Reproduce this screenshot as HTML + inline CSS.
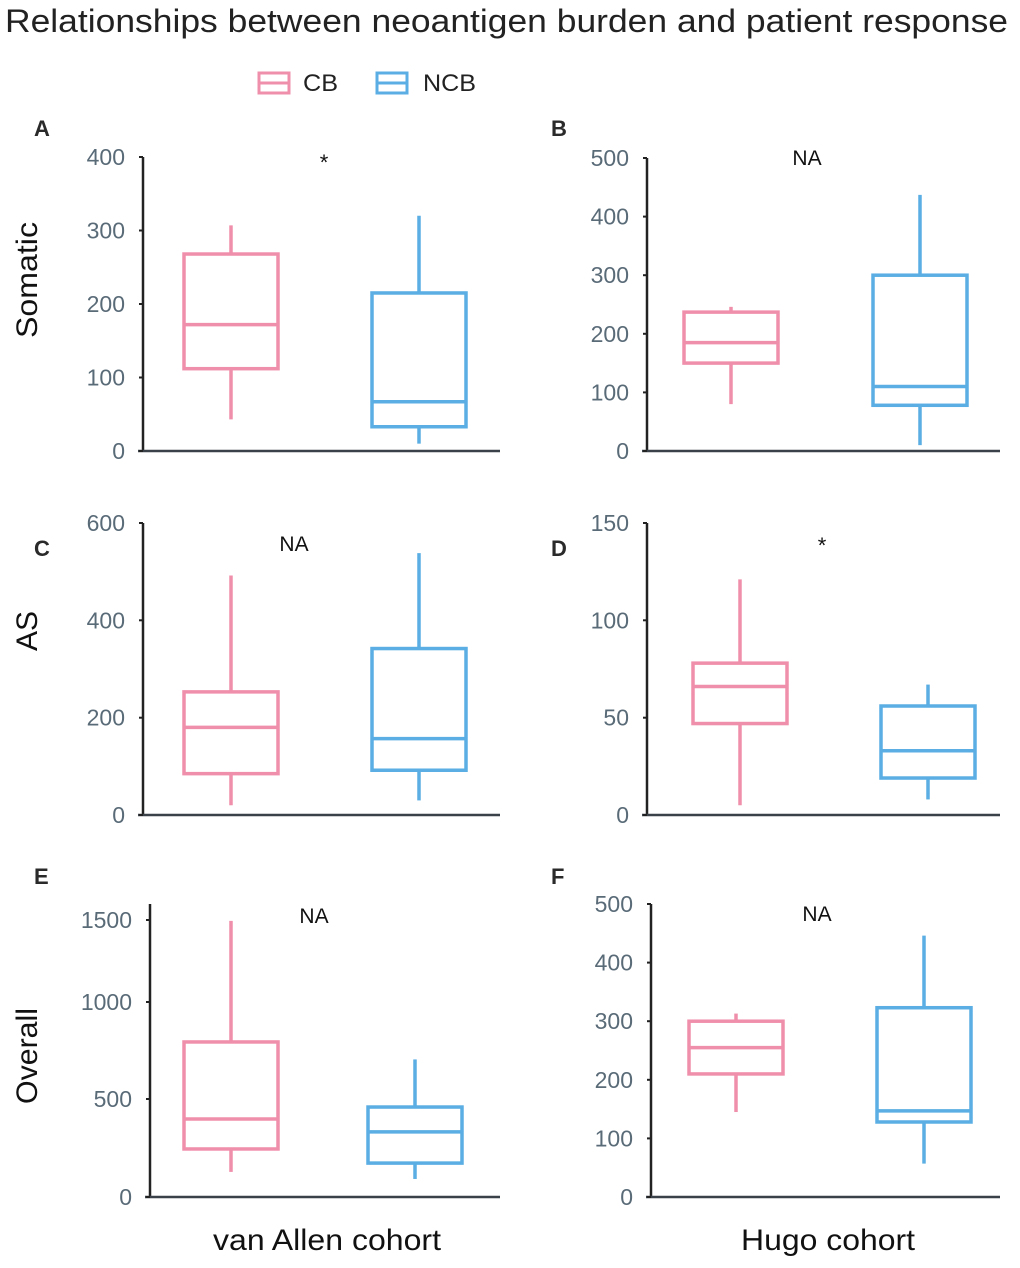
<!DOCTYPE html>
<html><head><meta charset="utf-8"><style>
body{margin:0;background:#fff;}
svg text{font-family:"Liberation Sans",sans-serif;}
</style></head><body>
<svg id="c" width="1020" height="1263" xmlns="http://www.w3.org/2000/svg">
<text x="5" y="32" font-size="32" textLength="1003" lengthAdjust="spacingAndGlyphs" fill="#222">Relationships between neoantigen burden and patient response</text>
<g>
<rect x="259" y="73" width="30" height="20" fill="none" stroke="#f08fab" stroke-width="3"/>
<line x1="259" y1="83" x2="289" y2="83" stroke="#f08fab" stroke-width="3"/>
<text x="303" y="91" font-size="24" textLength="35" lengthAdjust="spacingAndGlyphs" fill="#222">CB</text>
<rect x="377" y="73" width="30" height="20" fill="none" stroke="#5aaee3" stroke-width="3"/>
<line x1="377" y1="83" x2="407" y2="83" stroke="#5aaee3" stroke-width="3"/>
<text x="423" y="91" font-size="24" textLength="53" lengthAdjust="spacingAndGlyphs" fill="#222">NCB</text>
</g>
<text transform="translate(37,280) rotate(-90)" font-size="30" textLength="116" lengthAdjust="spacingAndGlyphs" text-anchor="middle" fill="#111">Somatic</text>
<text transform="translate(37,631) rotate(-90)" font-size="30" text-anchor="middle" fill="#111">AS</text>
<text transform="translate(37,1056) rotate(-90)" font-size="30" textLength="96" lengthAdjust="spacingAndGlyphs" text-anchor="middle" fill="#111">Overall</text>
<text x="213" y="1250" font-size="30" textLength="228" lengthAdjust="spacingAndGlyphs" fill="#111">van Allen cohort</text>
<text x="741" y="1250" font-size="30" textLength="174" lengthAdjust="spacingAndGlyphs" fill="#111">Hugo cohort</text>
</svg>
<script>
const panelLetters=["A","B","C","D","E","F"];
const panelNotes=["*","NA","NA","*","NA","NA"];
const yTicks=[[0,100,200,300,400],[0,100,200,300,400,500],[0,200,400,600],[0,50,100,150],[0,500,1000,1500],[0,100,200,300,400,500]];
// [whisker low, q1, median, q3, whisker high]
const cbStats=[[43,112,172,268,307],[80,150,185,237,246],[20,85,180,253,492],[5,47,66,78,121],[128,245,398,794,1495],[145,210,255,300,313]];
const ncbStats=[[10,33,67,215,320],[10,78,110,300,437],[30,92,157,342,538],[8,19,33,56,67],[92,173,332,459,704],[57,128,147,323,446]];

// tickPx: pixel y of each tick (axis calibration); values mapped piecewise-linearly
const layout=[
 {ax:143,axTop:157,bot:451,xr:500,c1:231,c2:419,lx:34,ly:136,nx:324,ny:170,tickPx:[451,377.5,304,230.5,157]},
 {ax:647,axTop:158,bot:451,xr:1000,c1:731,c2:920,lx:551,ly:136,nx:807,ny:165,tickPx:[451,392.4,333.8,275.2,216.6,158]},
 {ax:143,axTop:523,bot:815,xr:500,c1:231,c2:419,lx:34,ly:556,nx:294,ny:551,tickPx:[815,717.7,620.3,523]},
 {ax:647,axTop:523,bot:815,xr:1000,c1:740,c2:928,lx:551,ly:556,nx:822,ny:553,tickPx:[815,717.7,620.3,523]},
 {ax:150,axTop:904,bot:1197,xr:500,c1:231,c2:415,lx:34,ly:884,nx:314,ny:923,tickPx:[1197,1099,1002,920]},
 {ax:651,axTop:904,bot:1197,xr:1000,c1:736,c2:924,lx:551,ly:884,nx:817,ny:921,tickPx:[1197,1138.4,1079.8,1021.2,962.6,904]}
];
const NS="http://www.w3.org/2000/svg";
const svg=document.getElementById('c');
function mk(t,a,p){const e=document.createElementNS(NS,t);for(const k in a)e.setAttribute(k,a[k]);(p||svg).appendChild(e);return e;}
layout.forEach((L,i)=>{
 const g=mk('g',{});
 
 
 const T=yTicks[i],P=L.tickPx;
 const y=v=>{let k=0;while(k<T.length-2&&v>T[k+1])k++;return P[k]+(v-T[k])/(T[k+1]-T[k])*(P[k+1]-P[k]);};
 const lt=mk('text',{x:L.lx,y:L.ly,'font-size':22,'font-weight':'bold',fill:'#2a2a2a'},g);lt.textContent=panelLetters[i];
 
 
 const ya=mk('line',{x1:L.ax,y1:L.axTop,x2:L.ax,y2:L.bot,stroke:'#222','stroke-width':2.5},g);
 
 
 const xa=mk('line',{x1:L.ax-5,y1:L.bot,x2:L.xr,y2:L.bot,stroke:'#3a4148','stroke-width':2.5},g);
 
 
 T.forEach(t=>{
  mk('line',{x1:L.ax-4,y1:y(t),x2:L.ax,y2:y(t),stroke:'#222','stroke-width':2},g);
  const tx=mk('text',{x:L.ax-18,y:y(t)+8,'font-size':23,'text-anchor':'end',fill:'#5a6b78'},g);tx.textContent=t;
  
  
 });
 const nt=mk('text',{x:L.nx,y:L.ny,'font-size':panelNotes[i]==='*'?22:21,'text-anchor':'middle',fill:'#111'},g);nt.textContent=panelNotes[i];
 
 
 [[cbStats[i],L.c1,'#f08fab','cb'],[ncbStats[i],L.c2,'#5aaee3','ncb']].forEach(([s,cx,col,nm])=>{
  const bg=mk('g',{},g);
  
  
  const w=47;
  mk('line',{x1:cx,y1:y(s[0]),x2:cx,y2:y(s[1]),stroke:col,'stroke-width':3.5},bg);
  mk('line',{x1:cx,y1:y(s[3]),x2:cx,y2:y(s[4]),stroke:col,'stroke-width':3.5},bg);
  mk('rect',{x:cx-w,y:y(s[3]),width:2*w,height:y(s[1])-y(s[3]),fill:'none',stroke:col,'stroke-width':3.5},bg);
  mk('line',{x1:cx-w,y1:y(s[2]),x2:cx+w,y2:y(s[2]),stroke:col,'stroke-width':3.5},bg);
 });
});
</script>
</body></html>
